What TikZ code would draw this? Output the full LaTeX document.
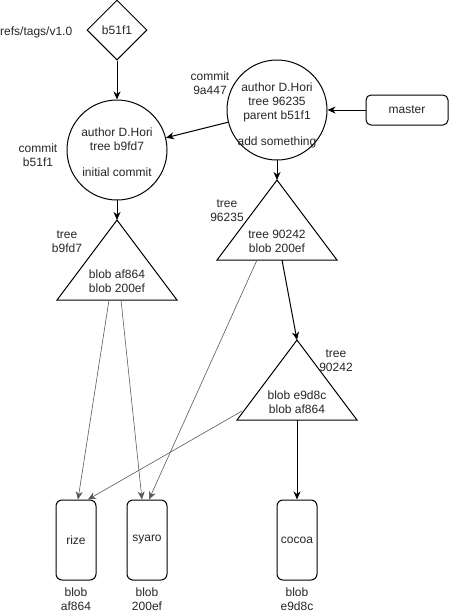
\documentclass[tikz,border=0pt]{standalone}
\usepackage{fontspec}
\setmainfont{Liberation Sans}
\usetikzlibrary{shapes.geometric,arrows.meta}
\begin{document}
\begin{tikzpicture}[x=1pt,y=-1pt,
  every node/.style={font=\fontsize{12}{14}\selectfont, align=center, inner sep=0pt, text=black!85},
  commitc/.style={draw, circle, minimum size=100pt, line width=1pt},
  tagbox/.style={draw, diamond, minimum width=60pt, minimum height=60pt, line width=1pt},
  refbox/.style={draw, rounded corners=5pt, minimum width=82pt, minimum height=30pt, line width=1pt},
  blobbox/.style={draw, rounded corners=6pt, minimum width=40pt, minimum height=80pt, line width=1pt},
  treetri/.style={draw, line width=1pt, line join=miter},
  lbl/.style={font=\fontsize{12}{14}\selectfont},
  strong/.style={draw, line width=1pt, -{Stealth[length=8pt,width=7pt,inset=2.5pt]}},
  weak/.style={draw, line width=0.6pt, black!65, -{Stealth[length=8pt,width=7pt,inset=2.5pt]}},
]
\useasboundingbox (0,0) rectangle (450,614);

% tag
\node[tagbox] (tag) at (117,30) {b51f1};
\node[lbl, anchor=west] (taglbl) at (0,32) {refs/tags/v1.0};

% commits
\node[commitc] (c1) at (117,150) {};
\node (c1txt) at (117,152) {author D.Hori\\tree b9fd7\\[12pt]initial commit};
\node[lbl] (c1lbl) at (38,155) {commit\\b51f1};

\node[commitc] (c2) at (277,110) {};
\node (c2txt) at (277,115) {author D.Hori\\tree 96235\\parent b51f1\\[12pt]add something};
\node[lbl] (c2lbl) at (210,83) {commit\\9a447};

\node[refbox] (master) at (407,110) {master};

% trees
\coordinate (t1top) at (117,220);
\coordinate (t1l) at (57,300);
\coordinate (t1r) at (177,300);
\path[treetri] (t1top) -- (t1r) -- (t1l) -- cycle;
\node (t1txt) at (117,281) {blob af864\\blob 200ef};
\node[lbl] (t1lbl) at (67,242) {tree\\b9fd7};

\coordinate (t2top) at (277,180);
\coordinate (t2l) at (217,260);
\coordinate (t2r) at (337,260);
\path[treetri] (t2top) -- (t2r) -- (t2l) -- cycle;
\node (t2txt) at (277,241) {tree 90242\\blob 200ef};
\node[lbl] (t2lbl) at (227,211) {tree\\96235};

\coordinate (t3top) at (297,340);
\coordinate (t3l) at (237,420);
\coordinate (t3r) at (357,420);
\path[treetri] (t3top) -- (t3r) -- (t3l) -- cycle;
\node (t3txt) at (297,402) {blob e9d8c\\blob af864};
\node[lbl] (t3lbl) at (336,361) {tree\\90242};

% blobs
\node[blobbox] (rize) at (76,540) {rize};
\node[blobbox] (syaro) at (147,540) {syaro};
\node[blobbox] (cocoa) at (297,540) {cocoa};
\node[lbl] (rizelbl) at (76,599) {blob\\af864};
\node[lbl] (syarolbl) at (147,599) {blob\\200ef};
\node[lbl] (cocoalbl) at (297,599) {blob\\e9d8c};

% connectors
\coordinate (t1a) at (109,300);
\coordinate (t1b) at (121,300);
\coordinate (t2a) at (257,260);
\coordinate (t2b) at (282,260);
\coordinate (t3a) at (242,411);
\coordinate (t3b) at (297,420);
\coordinate (c1bot) at (117,200);
\coordinate (c2bot) at (277,160);

\path[strong] (tag.south) -- (c1.north);
\path[strong] (master.west) -- (c2.east);
\path[strong] (c2) -- (c1);
\path[strong] (c1bot) -- (t1top);
\path[strong] (c2bot) -- (t2top);
\path[strong] (t2b) -- (t3top);
\path[strong] (t3b) -- (cocoa.north);

\path[weak] (t1a) -- (rize.north -| 78,0);
\path[weak] (t1b) -- (syaro.north -| 142,0);
\path[weak] (t2a) -- (syaro.north -| 149,0);
\path[weak] (t3a) -- (rize.north -| 88,0);
\end{tikzpicture}
\end{document}
